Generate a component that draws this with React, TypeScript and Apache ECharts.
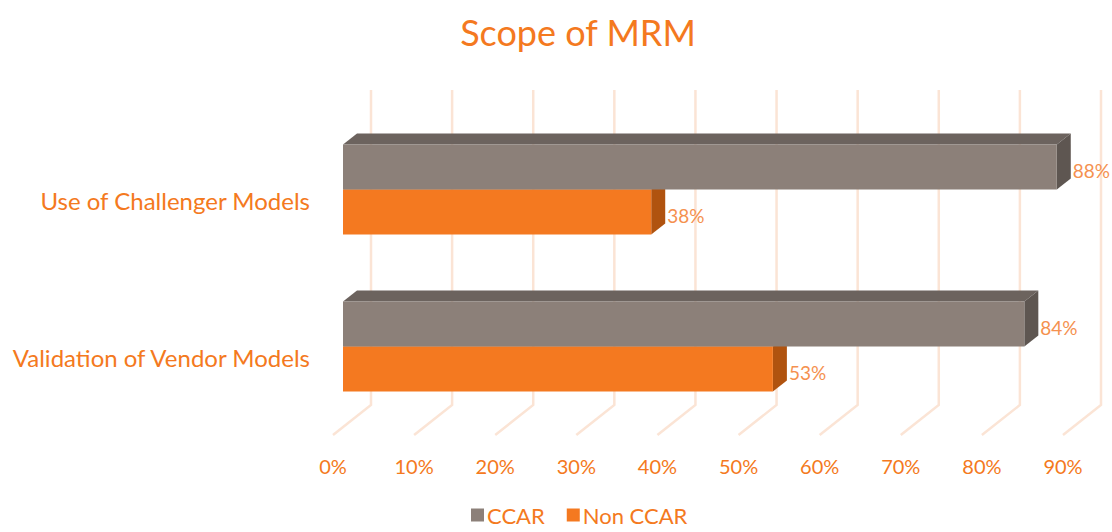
import React, { useEffect, useRef } from "react";
import * as echarts from "echarts";

const categories = ["Use of Challenger Models", "Validation of Vendor Models"];
const ccarValues = [88, 84];
const nonCcarValues = [38, 53];
const tickValues = [0, 10, 20, 30, 40, 50, 60, 70, 80, 90];

const ORANGE = "#F47920";
const LABEL = "#F5914F";
const GRID = "#FBE4D5";
const FONT = "Lato, 'Noto Sans', sans-serif";

const BAR_H = 45;
const DX = 14;
const DY = -11;

function boxRender(colors: { front: string; top: string; side: string }, isUpper: boolean) {
  return (params: any, api: any) => {
    const v = api.value(0);
    const cat = api.value(1);
    const p0 = api.coord([0, cat]);
    const p1 = api.coord([v, cat]);
    const x0 = p0[0] + 10;
    const x1 = p1[0] + 10;
    const yc = p0[1] - 11;
    const yTop = isUpper ? yc - BAR_H : yc;
    const yBot = isUpper ? yc : yc + BAR_H;
    return {
      type: "group",
      children: [
        {
          type: "polygon",
          shape: { points: [[x0, yTop], [x0 + DX, yTop + DY], [x1 + DX, yTop + DY], [x1, yTop]] },
          style: { fill: colors.top },
        },
        {
          type: "polygon",
          shape: { points: [[x1, yTop], [x1 + DX, yTop + DY], [x1 + DX, yBot + DY], [x1, yBot]] },
          style: { fill: colors.side },
        },
        {
          type: "rect",
          shape: { x: x0, y: yTop, width: x1 - x0, height: yBot - yTop },
          style: { fill: colors.front },
        },
        {
          type: "text",
          style: {
            text: v + "%",
            x: x1 + DX + 2,
            y: (yTop + yBot) / 2 + 3,
            fill: LABEL,
            fontSize: 19,
            fontFamily: FONT,
            align: "left",
            verticalAlign: "middle",
          },
        },
      ],
    };
  };
}

export default function App() {
  const ref = useRef<HTMLDivElement>(null);
  useEffect(() => {
    if (!ref.current) return;
    const chart = echarts.init(ref.current, undefined, { renderer: "svg" });
    const option: any = {
      animation: false,
      backgroundColor: "#FFFFFF",
      title: {
        text: "Scope of MRM",
        left: 573,
        top: 9,
        textAlign: "center",
        textStyle: { color: ORANGE, fontSize: 36, fontWeight: "normal", fontFamily: FONT },
      },
      legend: {
        data: ["CCAR", "Non CCAR"],
        left: 466,
        bottom: 1,
        icon: "rect",
        itemWidth: 13,
        itemHeight: 13,
        itemGap: 22,
        textStyle: { color: ORANGE, fontSize: 22, fontFamily: FONT, padding: [0, 0, 0, -2] },
      },
      grid: { left: 333, right: 49, top: 122, bottom: 96, containLabel: false },
      xAxis: {
        type: "value",
        min: 0,
        max: 90,
        interval: 10,
        axisLine: { show: false },
        axisTick: { show: false },
        splitLine: { show: false },
        axisLabel: { formatter: "{value}%", color: ORANGE, fontSize: 20, fontFamily: FONT, margin: 20 },
      },
      yAxis: {
        type: "category",
        inverse: true,
        data: categories,
        axisLine: { show: false },
        axisTick: { show: false },
        splitLine: { show: false },
        axisLabel: { color: ORANGE, fontSize: 24, fontFamily: FONT, margin: 23 },
      },
      series: [
        {
          type: "custom",
          name: "grid",
          silent: true,
          z: 1,
          data: tickValues.map((t) => [t, 0]),
          encode: { x: 0, y: 1 },
          renderItem: (params: any, api: any) => {
            const cs = params.coordSys;
            const x = api.coord([api.value(0), 0])[0];
            const yb = cs.y + cs.height - 1;
            return {
              type: "polyline",
              shape: { points: [[x, yb], [x + 38, yb - 30], [x + 38, 90]] },
              style: { stroke: GRID, lineWidth: 2.5, fill: "none" },
            };
          },
        },
        {
          type: "custom",
          name: "Non CCAR",
          z: 2,
          itemStyle: { color: ORANGE },
          data: nonCcarValues.map((v, i) => [v, i]),
          encode: { x: 0, y: 1 },
          renderItem: boxRender({ front: ORANGE, top: "#D0641A", side: "#B0530F" }, false),
        },
        {
          type: "custom",
          name: "CCAR",
          z: 3,
          itemStyle: { color: "#8C8079" },
          data: ccarValues.map((v, i) => [v, i]),
          encode: { x: 0, y: 1 },
          renderItem: boxRender({ front: "#8C8079", top: "#6C635E", side: "#5E5651" }, true),
        },
      ],
    };
    chart.setOption(option);
    return () => chart.dispose();
  }, []);
  return (
    <div
      ref={ref}
      style={{ position: "fixed", left: 0, top: 0, width: 1112, height: 532, background: "#fff" }}
    />
  );
}
